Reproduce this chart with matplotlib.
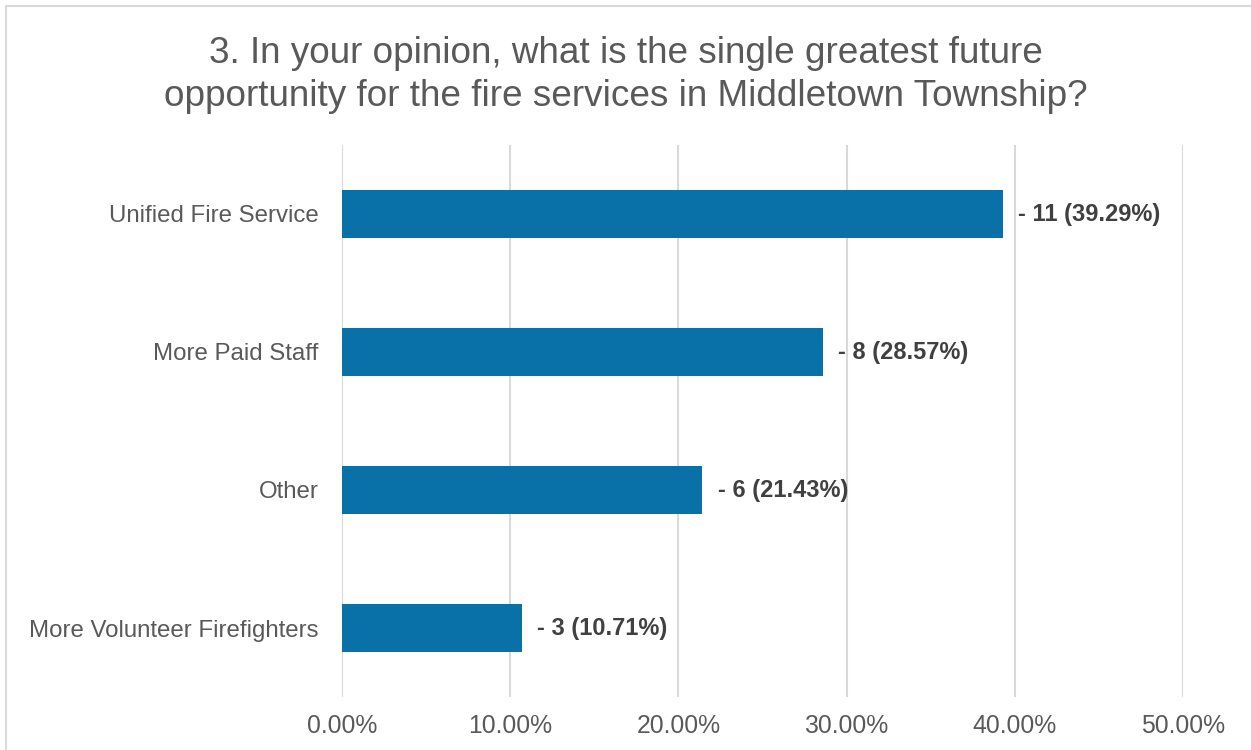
import matplotlib
matplotlib.use("Agg")
import matplotlib.pyplot as plt
from matplotlib.patches import Rectangle

categories = ["Unified Fire Service", "More Paid Staff", "Other", "More Volunteer Firefighters"]
counts = [11, 8, 6, 3]
percents = [39.29, 28.57, 21.43, 10.71]
tick_values = [0, 10, 20, 30, 40, 50]
tick_labels = ["0.00%", "10.00%", "20.00%", "30.00%", "40.00%", "50.00%"]
title = "3. In your opinion, what is the single greatest future\nopportunity for the fire services in Middletown Township?"

plt.rcParams["font.family"] = ["Liberation Sans", "DejaVu Sans"]

W, H = 1251, 750
fig = plt.figure(figsize=(W / 100, H / 100), dpi=100)
fig.patch.set_facecolor("white")

# chart area frame
fig.patches.append(Rectangle((6 / W, -0.01), 1.2, 1 - 6 / H + 0.01, transform=fig.transFigure,
                             fill=False, edgecolor="#D9D9D9", linewidth=1.5))

ax = fig.add_axes([342 / W, 1 - 697 / H, (1183 - 342) / W, (697 - 145) / H])
ypos = list(range(len(categories)))
ax.barh(ypos, percents, height=0.35, color="#0A71A8", zorder=3)
ax.set_ylim(len(categories) - 0.5, -0.5)
ax.set_xlim(0, 50)

ax.set_xticks(tick_values)
ax.set_xticklabels(tick_labels, fontsize=17.8, color="#595959")
ax.set_yticks(ypos)
ax.set_yticklabels(categories, fontsize=17.3, color="#595959")
ax.tick_params(axis="both", length=0)
ax.tick_params(axis="x", pad=12)
ax.tick_params(axis="y", pad=17)
ax.grid(axis="x", color="#D9D9D9", linewidth=1.5, zorder=0)
for s in ax.spines.values():
    s.set_visible(False)

for y, c, p in zip(ypos, counts, percents):
    ax.text(p + 0.9, y, f"- {c} ({p:.2f}%)", va="center", ha="left",
            fontsize=17, fontweight="bold", color="#404040", zorder=4)

fig.text(0.5, 1 - 75 / H, title, ha="center", va="center", fontsize=26.6,
         color="#595959", linespacing=1.3)

fig.savefig("out.png", dpi=100, facecolor="white")
